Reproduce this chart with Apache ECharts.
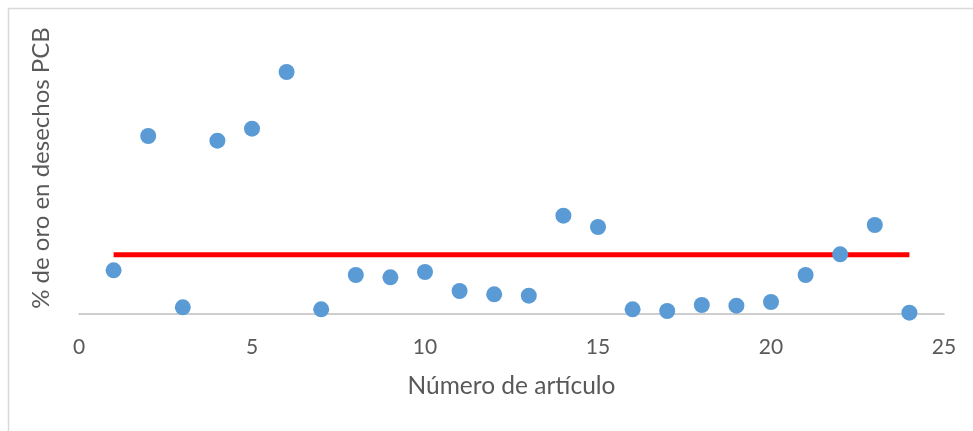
<!DOCTYPE html>
<html>
<head>
<meta charset="utf-8">
<script src="https://cdn.jsdelivr.net/npm/echarts@6/dist/echarts.min.js"></script>
<style>
  html, body { margin: 0; padding: 0; background: #fff; }
  #chart { width: 973px; height: 431px; }
</style>
</head>
<body>
<div id="chart"></div>
<script>
// Article numbers and gold content (% of gold in PCB scrap)
const articles = [1, 2, 3, 4, 5, 6, 7, 8, 9, 10, 11, 12, 13, 14, 15, 16, 17, 18, 19, 20, 21, 22, 23, 24];
const goldPct = [0.0432, 0.1775, 0.0062, 0.1728, 0.1848, 0.2415, 0.0042, 0.0385, 0.0362, 0.0415, 0.0225, 0.0192,
                 0.0178, 0.0978, 0.0865, 0.0042, 0.0025, 0.0085, 0.0078, 0.0115, 0.0385, 0.0592, 0.0885, 0.0008];
const xTicks = [0, 5, 10, 15, 20, 25];

const xTitle = 'Número de artículo';
const yTitle = '% de oro en desechos PCB';

// Average line spans the first to the last article
const mean = goldPct.reduce((a, b) => a + b, 0) / goldPct.length;
const meanLine = [[articles[0], mean], [articles[articles.length - 1], mean]];

const font = 'Lato, "Open Sans", sans-serif';
const chart = echarts.init(document.getElementById('chart'), null, { renderer: 'canvas' });

chart.setOption({
  animation: false,
  backgroundColor: '#ffffff',
  graphic: [{
    type: 'rect',
    shape: { x: 8.5, y: 8.5, width: 1000, height: 500 },
    style: { fill: 'none', stroke: '#d9d9d9', lineWidth: 1.5 },
    silent: true
  }],
  grid: { left: 79, right: 29, top: 13.5, bottom: 117.5 },
  xAxis: {
    type: 'value',
    min: xTicks[0],
    max: xTicks[xTicks.length - 1],
    interval: xTicks[1] - xTicks[0],
    name: xTitle,
    nameLocation: 'middle',
    nameGap: 60,
    nameTextStyle: { color: '#595959', fontSize: 24.5, fontFamily: font },
    axisLine: { show: true, lineStyle: { color: '#bfbfbf', width: 1.5 } },
    axisTick: { show: false },
    axisLabel: { color: '#595959', fontSize: 21, fontFamily: font, margin: 23 },
    splitLine: { show: false }
  },
  yAxis: {
    type: 'value',
    min: 0,
    max: 0.3,
    name: yTitle,
    nameLocation: 'middle',
    nameGap: 26,
    nameRotate: 90,
    nameTextStyle: { color: '#595959', fontSize: 24, fontFamily: font, padding: [0, 9, 0, 0] },
    axisLine: { show: false },
    axisTick: { show: false },
    axisLabel: { show: false },
    splitLine: { show: false }
  },
  series: [
    {
      type: 'line',
      data: meanLine,
      symbol: 'none',
      lineStyle: { color: '#ff0000', width: 5 },
      z: 2
    },
    {
      type: 'scatter',
      data: articles.map((a, i) => [a, goldPct[i]]),
      symbolSize: 16,
      itemStyle: { color: '#5b9bd5', opacity: 1 },
      z: 3
    }
  ]
});
</script>
</body>
</html>
